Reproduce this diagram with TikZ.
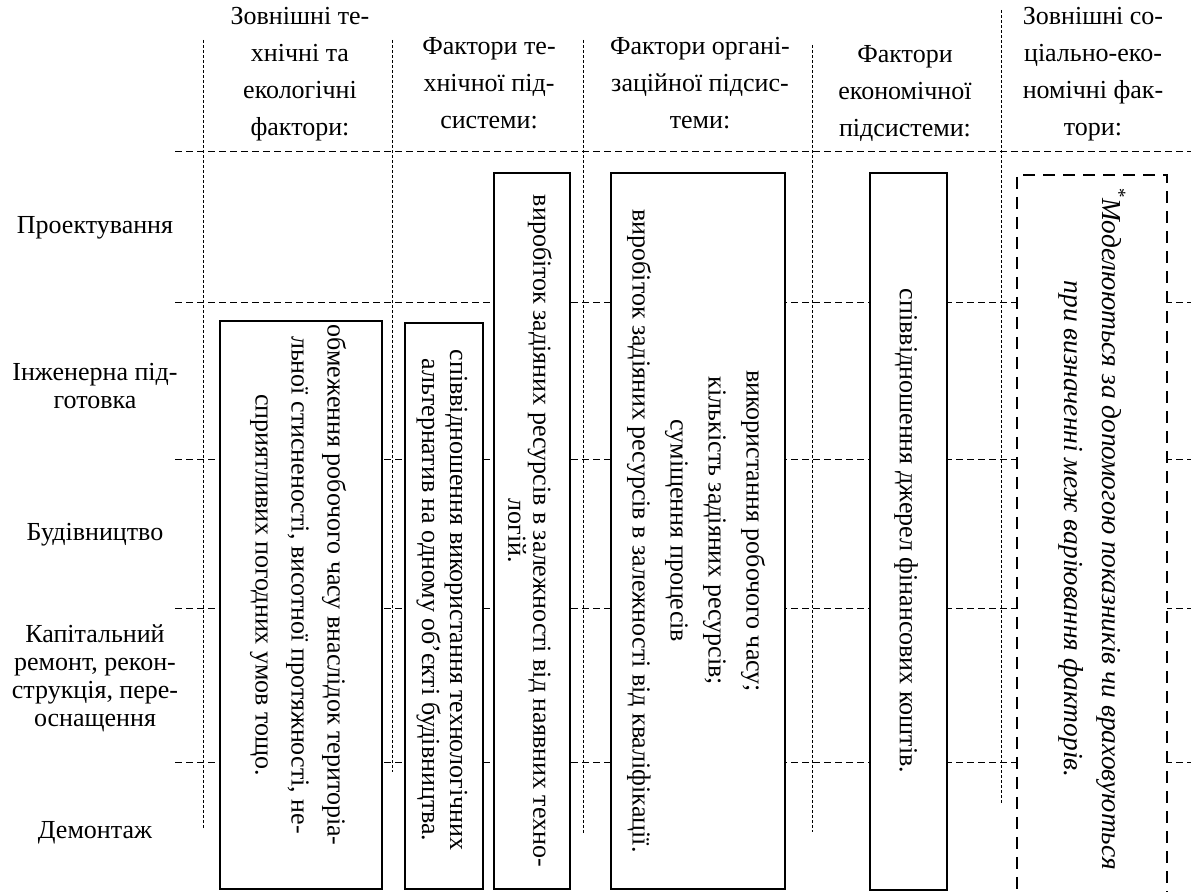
\documentclass[tikz,border=0pt]{standalone}
\usepackage{fontspec}
\setmainfont{Liberation Serif}

\tikzset{
  hgrid/.style={line width=0.5pt, dash pattern=on 3.5pt off 2pt},
  vgrid/.style={line width=0.5pt, dash pattern=on 1.5pt off 1pt},
  factorbox/.style={draw, line width=1.3pt, fill=white, inner sep=0pt},
  notebox/.style={factorbox, dash pattern=on 6pt off 4pt},
  factortext/.style={rotate=-90, align=center, inner sep=0pt},
  header/.style={align=center, font=\fontsize{13}{18.5}\selectfont},
  stage/.style={align=center, font=\fontsize{13}{14}\selectfont},
}

\begin{document}
\begin{tikzpicture}[x=0.5pt, y=-0.5pt]
    \useasboundingbox (0,0) rectangle (1191,892);

    % grid
    \foreach \y in {152,303,460,609,763}
        \draw[hgrid] (175,\y) -- (1191,\y);
    \foreach \x/\ya/\yb in {203/40/830, 392/40/772, 583/40/833, 812/45/832, 1001/10/803}
        \draw[vgrid] (\x,\ya) -- (\x,\yb);

    % column headers
    \node[header] (extech) at (300,74) {Зовнішні те-\\хнічні та\\екологічні\\фактори:};
    \node[header] (techsub) at (489,83) {Фактори те-\\хнічної під-\\системи:};
    \node[header] (orgsub) at (700,83) {Фактори органі-\\заційної підсис-\\теми:};
    \node[header] (econsub) at (905,94) {Фактори\\економічної\\підсистеми:};
    \node[header] (exsoc) at (1093,74) {Зовнішні со-\\ціально-еко-\\номічні фак-\\тори:};

    % life cycle stages
    \node[stage] (design) at (95,228) {Проектування};
    \node[stage] (prep) at (95,386) {Інженерна під-\\готовка};
    \node[stage] (build) at (95,535) {Будівництво};
    \node[stage] (repair) at (95,678) {Капітальний\\ремонт, рекон-\\струкція, пере-\\оснащення};
    \node[stage] (dismantle) at (95,833) {Демонтаж};

    % factor boxes
    \node[factorbox, minimum width=81pt, minimum height=284pt] (terrain) at (301,605) {};
    \node[factorbox, minimum width=39pt, minimum height=283pt] (techalt) at (444,606) {};
    \node[factorbox, minimum width=38pt, minimum height=358pt] (techout) at (532,531) {};
    \node[factorbox, minimum width=87pt, minimum height=358pt] (orgfac) at (698,531) {};
    \node[factorbox, minimum width=38.5pt, minimum height=358.5pt] (finance) at (908.5,531.5) {};
    \node[notebox, minimum width=75pt, minimum height=359pt] (socioec) at (1092,534) {};

    % factor texts
    \node[factortext, font=\fontsize{13}{18}\selectfont] (terraintxt) at (298,585)
        {обмеження робочого часу внаслідок територіа-\\льної стисненості, висотної протяжності, не-\\сприятливих погодних умов тощо.};
    \node[factortext, font=\fontsize{13}{14}\selectfont] (techalttxt) at (442,600)
        {співвідношення використання технологічних\\альтернатив на одному об’єкті будівництва.};
    \node[factortext, font=\fontsize{13}{12.5}\selectfont] (techouttxt) at (530,531)
        {виробіток задіяних ресурсів в залежності від наявних техно-\\логій.};
    \node[factortext, font=\fontsize{13}{19}\selectfont] (orgfactxt) at (696,531)
        {використання робочого часу;\\кількість задіяних ресурсів;\\суміщення процесів\\виробіток задіяних ресурсів в залежності від кваліфікації.};
    \node[factortext, font=\fontsize{13}{19}\selectfont] (financetxt) at (906,531)
        {співвідношення джерел фінансових коштів.};
    \node[factortext, font=\fontsize{13.7}{19}\selectfont\itshape] (socioectxt) at (1092,529)
        {\textsuperscript{*}Моделюються за допомогою показників чи враховуються\\при визначенні меж варіювання факторів.};
\end{tikzpicture}
\end{document}
